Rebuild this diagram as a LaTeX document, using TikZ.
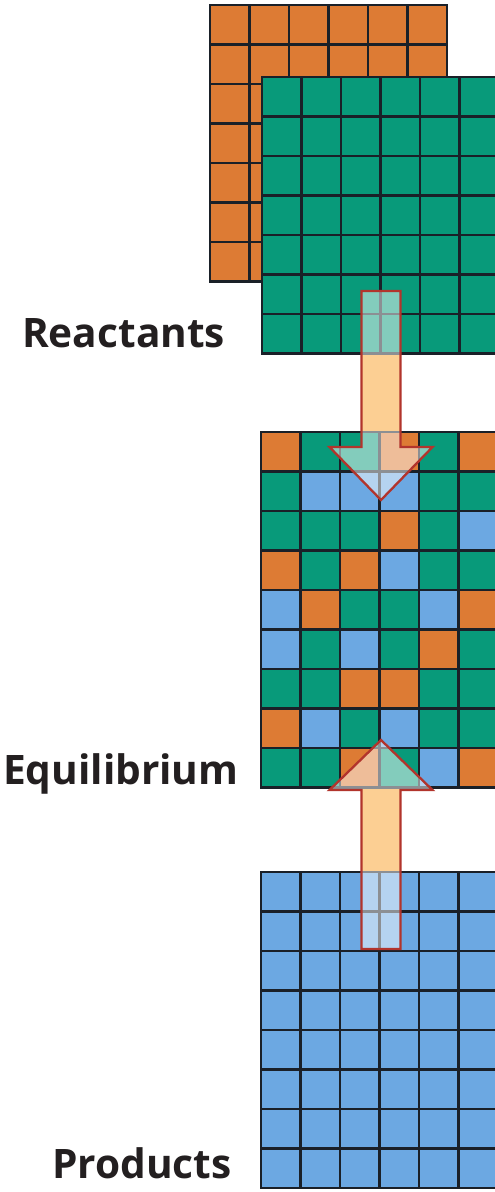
\documentclass[tikz,border=0pt]{standalone}
\usepackage{fontspec}
\setmainfont{Open Sans}
\definecolor{cO}{RGB}{221,123,52}
\definecolor{cG}{RGB}{8,154,122}
\definecolor{cB}{RGB}{108,168,226}
\definecolor{gridink}{RGB}{26,32,40}
\definecolor{arrowbase}{RGB}{250,160,40}
\definecolor{arrowedge}{RGB}{178,52,44}
\definecolor{labelink}{RGB}{35,31,32}
\begin{document}
\begin{tikzpicture}[x=1pt,y=-1pt,
  gl/.style={draw=gridink,line width=2.8pt,line cap=rect},
  lab/.style={anchor=base west,inner sep=0pt,text=labelink,font=\fontsize{40.6}{40.6}\selectfont\bfseries},
  arrowfill/.style={fill=arrowbase},
  arrowveil/.style={fill=white,fill opacity=0.5},
  arrowline/.style={draw=arrowedge,line width=2.3pt,line join=miter}]
\useasboundingbox (0,0) rectangle (495,1192);
\clip (0,0) rectangle (495,1192);
\fill[white] (0,0) rectangle (495,1192);
\def\downarrow{(361.5,291) -- (400.5,291) -- (400.5,447) -- (432.5,447) -- (381,500) -- (329.5,447) -- (361.5,447) -- cycle}
\def\uparrowpath{(381,740) -- (432.5,790) -- (400.5,790) -- (400.5,949) -- (361.5,949) -- (361.5,790) -- (329.5,790) -- cycle}
% arrow base fills (under grids)
\fill[arrowfill] \downarrow;
\fill[arrowfill] \uparrowpath;
% orange reactant grid
\fill[cO] (210,5) rectangle (447,281.5);
\foreach \i in {0,...,6} \draw[gl] (210+\i*39.5,5) -- ++(0,276.5);
\foreach \j in {0,...,7} \draw[gl] (210,5+\j*39.5) -- ++(237,0);
% green reactant grid
\fill[cG] (262,77) rectangle (499,353.5);
\foreach \i in {0,...,6} \draw[gl] (262+\i*39.5,77) -- ++(0,276.5);
\foreach \j in {0,...,7} \draw[gl] (262,77+\j*39.5) -- ++(237,0);
% equilibrium grid
\foreach \row [count=\r from 0] in {{O,G,G,O,G,O},{G,B,B,B,G,G},{G,G,G,O,G,B},{O,G,O,B,G,G},{B,O,G,G,B,O},{B,G,B,G,O,G},{G,G,O,O,G,G},{O,B,G,B,G,G},{G,G,O,G,B,O}}{
  \foreach \c [count=\k from 0] in \row {
    \fill[c\c] (261+\k*39.5,432+\r*39.5) rectangle ++(39.5,39.5);
  }
}
\foreach \i in {0,...,6} \draw[gl] (261+\i*39.5,432) -- ++(0,355.5);
\foreach \j in {0,...,9} \draw[gl] (261,432+\j*39.5) -- ++(237,0);
% products grid
\fill[cB] (261,872) rectangle (498,1188);
\foreach \i in {0,...,6} \draw[gl] (261+\i*39.5,872) -- ++(0,316);
\foreach \j in {0,...,8} \draw[gl] (261,872+\j*39.5) -- ++(237,0);
% arrow veils and outlines
\fill[arrowveil] \downarrow;
\fill[arrowveil] \uparrowpath;
\draw[arrowline] \downarrow;
\draw[arrowline] \uparrowpath;
% labels
\node[lab] (reactants) at (22,347) {Reactants};
\node[lab] (equilibrium) at (3,784) {Equilibrium};
\node[lab] (products) at (52,1178) {Products};
\end{tikzpicture}
\end{document}
